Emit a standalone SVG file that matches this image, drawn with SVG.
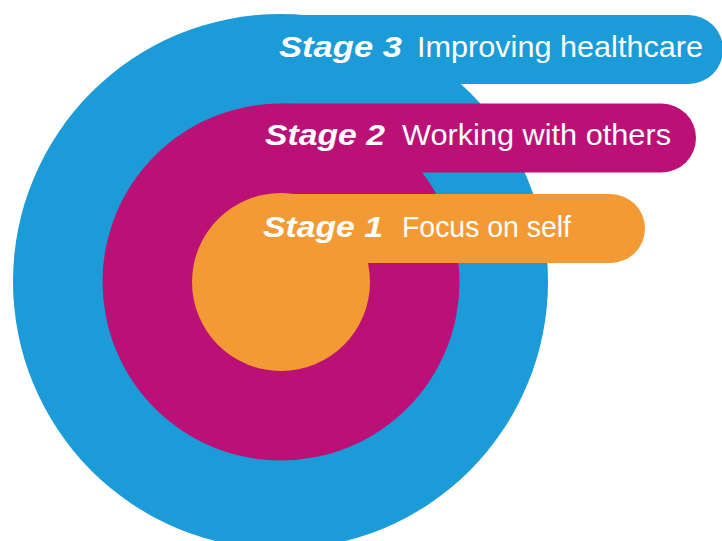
<svg xmlns="http://www.w3.org/2000/svg" width="722" height="541" viewBox="0 0 722 541">
  <style>
    .stage { font-family: "Liberation Sans", Arial, sans-serif; font-weight: bold; font-style: italic; font-size: 30px; fill: #ffffff; }
    .label { font-family: "Liberation Sans", Arial, sans-serif; font-size: 30px; fill: #ffffff; }
    .blue { fill: #1b9bd7; }
    .magenta { fill: #bb1076; }
    .orange { fill: #f39a34; }
  </style>
  <rect width="722" height="541" fill="#ffffff"/>
  <g id="stage3">
    <circle class="blue" cx="280.5" cy="281.5" r="267.5"/>
    <path class="blue" d="M280,15 H688.5 A34.5,34.5 0 0 1 688.5,84 H280 Z"/>
    <text class="stage" x="279" y="57" textLength="123" lengthAdjust="spacingAndGlyphs">Stage 3</text>
    <text class="label" x="417" y="57" textLength="286" lengthAdjust="spacingAndGlyphs">Improving healthcare</text>
  </g>
  <g id="stage2">
    <circle class="magenta" cx="281" cy="282" r="178.5"/>
    <path class="magenta" d="M281,103.5 H661.5 A34.5,34.5 0 0 1 661.5,172.5 H281 Z"/>
    <text class="stage" x="265" y="145" textLength="120" lengthAdjust="spacingAndGlyphs">Stage 2</text>
    <text class="label" x="402" y="145" textLength="269" lengthAdjust="spacingAndGlyphs">Working with others</text>
  </g>
  <g id="stage1">
    <circle class="orange" cx="281" cy="282" r="89"/>
    <path class="orange" d="M281,194 H610.5 A34.5,34.5 0 0 1 610.5,263 H281 Z"/>
    <text class="stage" x="263" y="237" textLength="120" lengthAdjust="spacingAndGlyphs">Stage 1</text>
    <text class="label" x="402" y="237" textLength="169" lengthAdjust="spacingAndGlyphs">Focus on self</text>
  </g>
</svg>
